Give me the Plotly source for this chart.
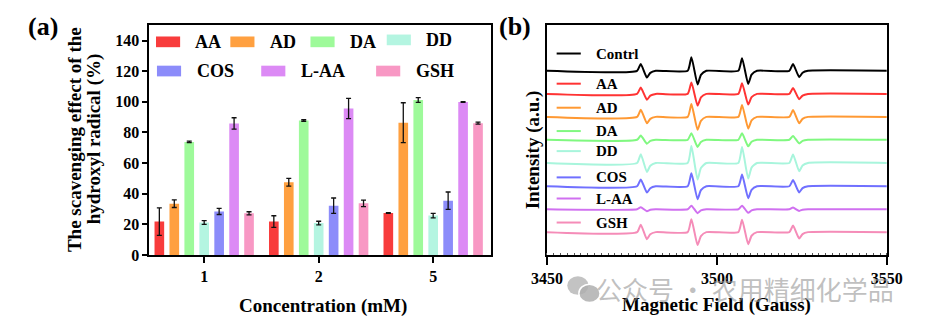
import plotly.graph_objects as go

W, H = 926, 334

# ---------------- data: panel (a) ----------------
concentrations = ["1", "2", "5"]
series_names = ["AA", "AD", "DA", "DD", "COS", "L-AA", "GSH"]
bar_colors = ["#F83C3C", "#FFA040", "#9EFA9A", "#B4F5E1", "#8C8CFA", "#DC8AF5", "#F898C4"]
AA = [21.8, 21.8, 27.4]
AD = [33.5, 47.5, 86.4]
DA = [73.8, 87.8, 101.2]
DD = [21.2, 20.8, 25.7]
COS = [28.4, 32.2, 35.4]
LAA = [85.9, 95.7, 99.9]
GSH = [27.2, 33.7, 86.1]
AA_err = [9.0, 3.8, 0.3]
AD_err = [2.5, 2.5, 13.0]
DA_err = [0.5, 0.5, 1.6]
DD_err = [1.2, 1.2, 1.5]
COS_err = [2.0, 5.0, 5.7]
LAA_err = [3.7, 6.6, 0.3]
GSH_err = [1.0, 2.1, 0.6]
bar_values = [AA, AD, DA, DD, COS, LAA, GSH]
bar_errors = [AA_err, AD_err, DA_err, DD_err, COS_err, LAA_err, GSH_err]
y_ticks_a = [0, 20, 40, 60, 80, 100, 120, 140]

# ---------------- data: panel (b) ----------------
esr_names = ["Contrl", "AA", "AD", "DA", "DD", "COS", "L-AA", "GSH"]
esr_colors = ["#000000", "#FF3333", "#FF9933", "#80F880", "#A8F5DC", "#7070FF", "#D070F0", "#F58CB8"]
field = [3450,
         3476.5, 3477.6, 3479.4, 3480.4, 3482.0,
         3491.4, 3492.5, 3494.3, 3495.3, 3496.9,
         3506.3, 3507.4, 3509.2, 3510.2, 3511.8,
         3521.3, 3522.4, 3524.2, 3525.2, 3526.8,
         3550]
esr_Contrl = [0, 0, 7.0, -7.0, -2.1, 0, 0, 14.0, -14.0, -4.2, 0, 0, 13.0, -13.5, -4.0, 0, 0, 7.0, -6.5, -2.0, 0, 0]
esr_AA = [0, 0, 6.5, -6.0, -1.8, 0, 0, 11.7, -12.0, -3.6, 0, 0, 11.0, -11.0, -3.3, 0, 0, 6.0, -5.5, -1.7, 0, 0]
esr_AD = [0, 0, 7.3, -6.5, -2.0, 0, 0, 13.3, -13.3, -4.0, 0, 0, 12.3, -12.0, -3.6, 0, 0, 7.0, -6.5, -2.0, 0, 0]
esr_DA = [0, 0, 4.3, -4.0, -1.2, 0, 0, 6.7, -7.3, -2.2, 0, 0, 6.7, -6.7, -2.0, 0, 0, 4.0, -3.7, -1.1, 0, 0]
esr_DD = [0, 0, 9.0, -9.3, -2.8, 0, 0, 17.3, -17.0, -5.1, 0, 0, 16.3, -16.0, -4.8, 0, 0, 8.7, -8.5, -2.6, 0, 0]
esr_COS = [0, 0, 7.0, -6.5, -2.0, 0, 0, 13.3, -13.3, -4.0, 0, 0, 12.0, -12.3, -3.7, 0, 0, 6.3, -6.3, -1.9, 0, 0]
esr_LAA = [0, 0, 2.0, -2.0, -0.6, 0, 0, 3.7, -4.0, -1.2, 0, 0, 3.7, -3.7, -1.1, 0, 0, 1.7, -1.7, -0.5, 0, 0]
esr_GSH = [0, 0, 7.7, -7.3, -2.2, 0, 0, 13.3, -13.3, -4.0, 0, 0, 12.7, -12.3, -3.7, 0, 0, 6.7, -6.5, -2.0, 0, 0]
esr_data = [esr_Contrl, esr_AA, esr_AD, esr_DA, esr_DD, esr_COS, esr_LAA, esr_GSH]
esr_offsets = [189.0, 165.3, 141.7, 118.2, 94.4, 70.5, 46.9, 23.4]
x_ticks_b = [3450, 3500, 3550]

SERIF = "Times New Roman, Liberation Serif, Tinos, DejaVu Serif, serif"
def px(x):
    return x / W
def py(y):
    return 1 - y / H

fig = go.Figure()

# ---- panel (a) bars ----
for name, vals, errs, col in zip(series_names, bar_values, bar_errors, bar_colors):
    fig.add_trace(go.Bar(
        x=concentrations, y=vals, name=name, marker_color=col,
        marker_line_width=0,
        error_y=dict(type="data", array=errs, visible=True, color="#111111",
                     thickness=1.3, width=2.5),
        xaxis="x", yaxis="y", showlegend=False))

# ---- panel (b) spectra ----
for name, vals, off, col in zip(esr_names, esr_data, esr_offsets, esr_colors):
    fig.add_trace(go.Scatter(
        x=field, y=[off + v for v in vals], mode="lines", name=name,
        line=dict(color=col, width=2, shape="spline", smoothing=0.5),
        xaxis="x2", yaxis="y2", showlegend=False))

dom_y = [py(262), py(26)]
axis_common = dict(showline=True, linecolor="black", linewidth=1.8, mirror=True,
                   showgrid=False, zeroline=False)
tick_font = dict(family=SERIF, size=16, color="black", weight="bold")

fig.update_layout(
    width=W, height=H, margin=dict(l=0, r=0, t=0, b=0),
    paper_bgcolor="white", plot_bgcolor="white",
    font=dict(family=SERIF),
    barmode="group", bargap=0.086, bargroupgap=0.355,
    xaxis=dict(domain=[px(138), px(492)], range=[-0.48, 2.505], type="category",
               ticks="outside", ticklen=6, tickwidth=1.8, tickcolor="black",
               tickfont=tick_font, anchor="y", **axis_common),
    yaxis=dict(domain=dom_y, range=[0, 150], tickvals=y_ticks_a,
               ticks="outside", ticklen=5, tickwidth=1.8, tickcolor="black",
               tickfont=tick_font, anchor="x", **axis_common),
    xaxis2=dict(domain=[px(550), px(902)], range=[3450, 3550], tickvals=x_ticks_b,
                ticks="outside", ticklen=8, tickwidth=1.8, tickcolor="black",
                tickfont=tick_font,
                minor=dict(ticks="inside", ticklen=2, dtick=2, tickcolor="#555", tickwidth=1),
                anchor="y2", **axis_common),
    yaxis2=dict(domain=dom_y, range=[0, 235.7], showticklabels=False, ticks="",
                anchor="x2", **axis_common),
)

shapes = []
ann = []

def text(x, y, s, size, anchor="center", angle=0, family=SERIF, color="black", bold=True):
    ann.append(dict(xref="paper", yref="paper", x=px(x), y=py(y), text=s,
                    showarrow=False, xanchor=anchor, yanchor="middle", textangle=angle,
                    font=dict(family=family, size=size, color=color,
                              weight=("bold" if bold else "normal"))))

# panel labels and axis titles
text(28, 27, "(a)", 26)
text(517, 27, "(b)", 26)
text(60, 143, "The scavenging effect of the", 19, angle=-90)
text(81, 143, "hydroxyl radical (%)", 19, angle=-90)
text(318, 314, "Concentration (mM)", 19)
text(535, 154, "Intensity (a.u.)", 19, angle=-90)
text(726, 313, "Magnetic Field (Gauss)", 19)

# panel (a) legend (two rows)
leg_a = [(145, 43, 183), (222, 43, 261), (305, 43, 344), (384, 41, 423),
         (146, 73, 185), (254, 73, 293), (373, 73, 412)]
for (sx, sy, tx), name, col in zip(leg_a, series_names, bar_colors):
    shapes.append(dict(type="rect", xref="paper", yref="paper", x0=px(sx), x1=px(sx + 25),
                       y0=py(sy + 5.5), y1=py(sy - 5.5), fillcolor=col, line=dict(width=0)))
    text(tx, sy, name, 18, anchor="left")

# panel (b) legend
leg_b_y = [55, 86, 110.7, 134.7, 155.3, 182.3, 204, 228.7]
for yy, name, col in zip(leg_b_y, esr_names, esr_colors):
    shapes.append(dict(type="line", xref="paper", yref="paper", x0=px(560), x1=px(585),
                       y0=py(yy), y1=py(yy), line=dict(color=col, width=2)))
    text(599, yy, name, 15, anchor="left")

# watermark
shapes.append(dict(type="circle", xref="paper", yref="paper", x0=px(571), x1=px(593),
                   y0=py(303), y1=py(284), fillcolor="rgba(175,175,175,0.75)", line=dict(width=0)))
shapes.append(dict(type="circle", xref="paper", yref="paper", x0=px(583), x1=px(605),
                   y0=py(311), y1=py(292), fillcolor="rgba(175,175,175,0.85)",
                   line=dict(color="white", width=1.5)))
text(755, 296, "公众号 · 农用精细化学品", 26, family="Noto Sans CJK SC",
     color="rgba(150,150,150,0.6)", bold=False)

fig.update_layout(shapes=shapes, annotations=ann)
fig.write_html("out.html",
               post_script="document.body.style.margin='0';document.body.style.padding='0';"
                           "document.documentElement.style.overflow='hidden';")
